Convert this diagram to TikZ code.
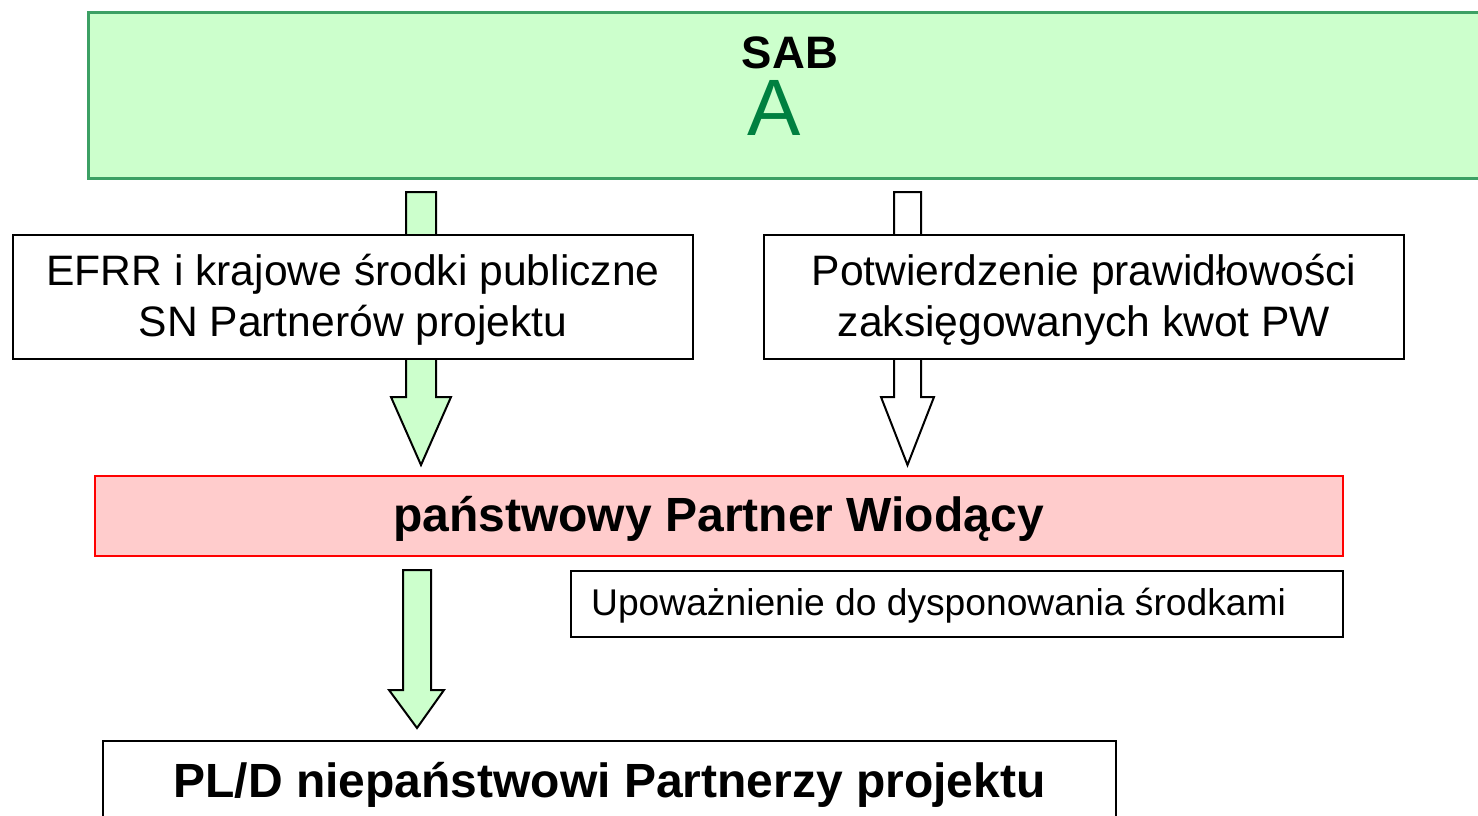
\documentclass[tikz,border=0pt]{standalone}
\usepackage{fontspec}
\setmainfont{Liberation Sans}
\usetikzlibrary{calc}
\definecolor{sabfill}{RGB}{204,255,204}
\definecolor{sabline}{RGB}{60,160,100}
\definecolor{sabtext}{RGB}{0,128,64}
\definecolor{leadfill}{RGB}{255,204,204}
\tikzset{
  plainbox/.style={draw=black, line width=2pt, fill=white, inner sep=0pt, anchor=north west},
  sabbox/.style={draw=sabline, line width=3pt, fill=sabfill, inner sep=0pt, anchor=north west},
  leadbox/.style={draw=red, line width=2pt, fill=leadfill, inner sep=0pt, anchor=north west},
  flowtext/.style={align=center, inner sep=0pt, font=\fontsize{42.6}{51}\selectfont},
  blockarrow/.style={draw=black, line width=2pt, line join=miter},
  greenarrow/.style={blockarrow, fill=sabfill},
  whitearrow/.style={blockarrow, fill=white},
}
\begin{document}
\begin{tikzpicture}[x=1pt,y=-1pt]
\useasboundingbox (0,0) rectangle (1478,815);

% top institution box
\node[sabbox, minimum width=1420pt, minimum height=166pt] (sab) at (87,11) {};
\node[anchor=base, font=\fontsize{45.5}{54}\selectfont\bfseries] (sabname) at (790,68) {SAB};
\node[anchor=base, text=sabtext, font=\fontsize{80}{96}\selectfont] (saba) at (774,135) {A};

% block arrows running behind the boxes
\draw[greenarrow] (406,192) -- (436,192) -- (436,397) -- (451,397) -- (421,465)
  -- (391,397) -- (406,397) -- cycle;
\draw[whitearrow] (894,192) -- (921,192) -- (921,397) -- (934,397) -- (907.5,465)
  -- (881,397) -- (894,397) -- cycle;
\draw[greenarrow] (403,570) -- (431,570) -- (431,690) -- (444,690) -- (417,728)
  -- (389,690) -- (403,690) -- cycle;

% flow boxes
\node[plainbox, minimum width=680pt, minimum height=124pt] (efrr) at (12,234) {};
\node[flowtext] (efrrtext) at ($(efrr.center)+(0,3)$)
  {EFRR i krajowe środki publiczne\\SN Partnerów projektu};
\node[plainbox, minimum width=640pt, minimum height=124pt] (pw) at (763,234) {};
\node[flowtext] (pwtext) at ($(pw.center)+(0,3)$)
  {Potwierdzenie prawidłowości\\zaksięgowanych kwot PW};

\node[leadbox, minimum width=1248pt, minimum height=80pt] (lead) at (94,475) {};
\node[anchor=base, font=\fontsize{48}{58}\selectfont\bfseries] (leadtext) at (718.5,531)
  {państwowy Partner Wiodący};

\node[plainbox, minimum width=772pt, minimum height=66pt] (auth) at (570,570) {};
\node[anchor=base west, inner sep=0pt, font=\fontsize{37.2}{44}\selectfont] (authtext) at (591,615)
  {Upoważnienie do dysponowania środkami};

\node[plainbox, minimum width=1013pt, minimum height=100pt] (partners) at (102,740) {};
\node[anchor=base, font=\fontsize{48}{58}\selectfont\bfseries] (partnerstext) at (609.5,797)
  {PL/D niepaństwowi Partnerzy projektu};
\end{tikzpicture}
\end{document}
